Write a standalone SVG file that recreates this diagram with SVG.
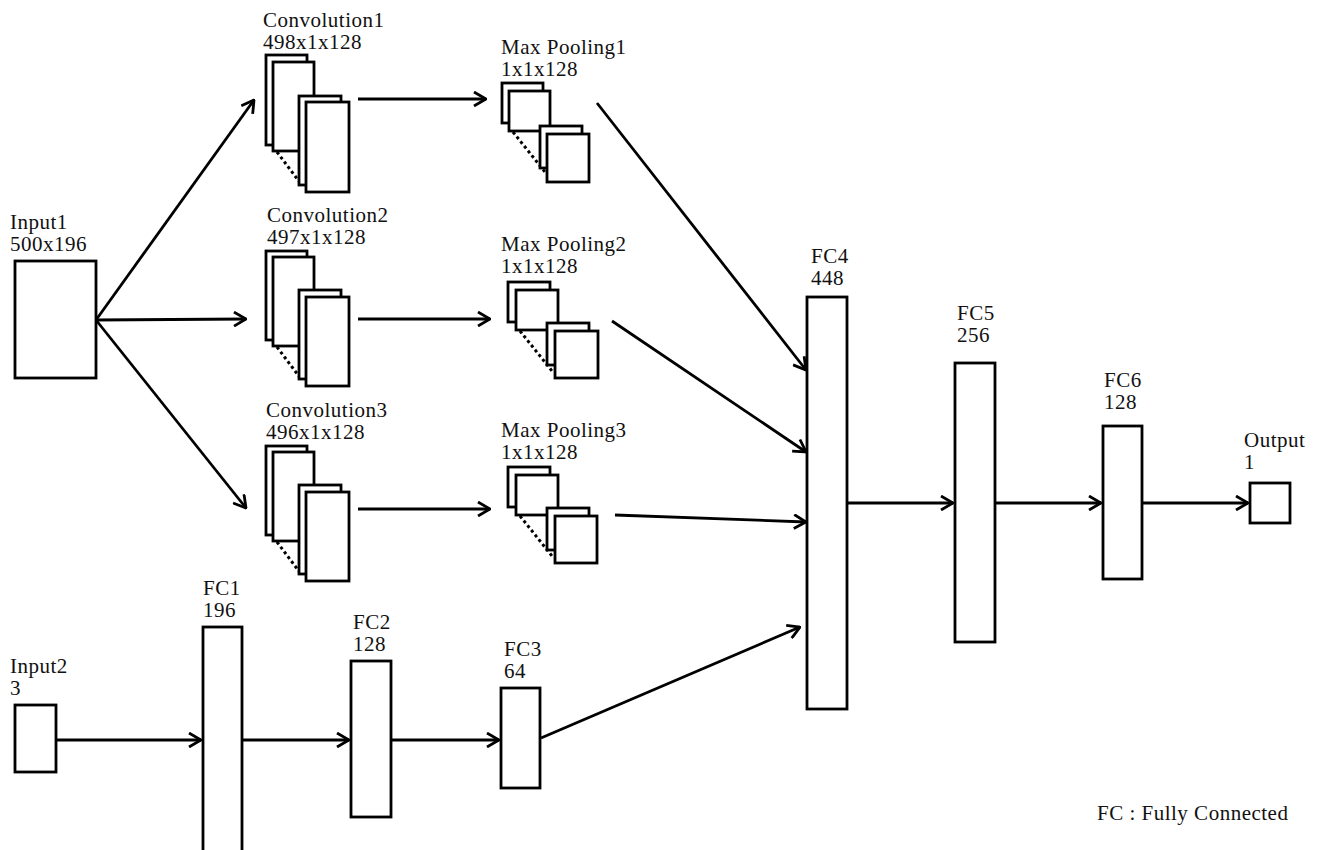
<svg xmlns="http://www.w3.org/2000/svg" width="1322" height="850" viewBox="0 0 1322 850">
<style>
.b{fill:#fff;stroke:#000;stroke-width:2.8}
.t{font-family:"Liberation Serif","Times New Roman",serif;font-size:21px;letter-spacing:0.5px;fill:#111}
.c{fill:none;stroke:#000;stroke-width:2.8}
.d{fill:none;stroke:#000;stroke-width:3;stroke-dasharray:3 3}
</style>
<defs>
<marker id="ah" viewBox="0 0 14 16" refX="13" refY="8" markerWidth="14" markerHeight="16" markerUnits="userSpaceOnUse" orient="auto">
<path d="M1,1 L13,8 L1,15" fill="none" stroke="#000" stroke-width="2.8"/>
</marker>
</defs>
<rect width="1322" height="850" fill="#fff"/>
<g id="connectors">
<line class="c" x1="96" y1="320" x2="254" y2="100" marker-end="url(#ah)"/>
<line class="c" x1="96" y1="320" x2="246" y2="319" marker-end="url(#ah)"/>
<line class="c" x1="96" y1="320" x2="246" y2="508" marker-end="url(#ah)"/>
<line class="c" x1="358" y1="99" x2="486" y2="99" marker-end="url(#ah)"/>
<line class="c" x1="358" y1="319" x2="490" y2="319" marker-end="url(#ah)"/>
<line class="c" x1="358" y1="509" x2="490" y2="509" marker-end="url(#ah)"/>
<line class="c" x1="597" y1="103" x2="806" y2="370" marker-end="url(#ah)"/>
<line class="c" x1="612" y1="321" x2="806" y2="452" marker-end="url(#ah)"/>
<line class="c" x1="615" y1="515" x2="806" y2="522" marker-end="url(#ah)"/>
<line class="c" x1="541" y1="738" x2="800" y2="627" marker-end="url(#ah)"/>
<line class="c" x1="847" y1="503" x2="953" y2="503" marker-end="url(#ah)"/>
<line class="c" x1="995" y1="503" x2="1101" y2="503" marker-end="url(#ah)"/>
<line class="c" x1="1142" y1="503" x2="1248" y2="503" marker-end="url(#ah)"/>
<line class="c" x1="56" y1="740" x2="201" y2="740" marker-end="url(#ah)"/>
<line class="c" x1="242" y1="740" x2="349" y2="740" marker-end="url(#ah)"/>
<line class="c" x1="391" y1="740" x2="499" y2="740" marker-end="url(#ah)"/>
</g>
<g id="input1">
<text class="t" x="10" y="229">Input1</text>
<text class="t" x="10" y="251">500x196</text>
<rect class="b" x="15" y="261" width="81" height="117"/>
</g>
<g id="conv1">
<text class="t" x="263" y="27">Convolution1</text>
<text class="t" x="263" y="49">498x1x128</text>
<rect class="b" x="266" y="55" width="41" height="90"/>
<rect class="b" x="273" y="62" width="41" height="89"/>
<line class="d" x1="277" y1="152" x2="301" y2="184"/>
<rect class="b" x="299" y="96" width="42" height="89"/>
<rect class="b" x="306" y="102" width="43" height="90"/>
</g>
<g id="conv2">
<text class="t" x="267" y="222">Convolution2</text>
<text class="t" x="267" y="244">497x1x128</text>
<rect class="b" x="266" y="251" width="41" height="89"/>
<rect class="b" x="273" y="257" width="41" height="89"/>
<line class="d" x1="277" y1="347" x2="301" y2="379"/>
<rect class="b" x="299" y="290" width="42" height="89"/>
<rect class="b" x="306" y="297" width="43" height="89"/>
</g>
<g id="conv3">
<text class="t" x="266" y="417">Convolution3</text>
<text class="t" x="266" y="439">496x1x128</text>
<rect class="b" x="266" y="446" width="41" height="89"/>
<rect class="b" x="273" y="452" width="41" height="89"/>
<line class="d" x1="277" y1="542" x2="301" y2="574"/>
<rect class="b" x="299" y="485" width="42" height="89"/>
<rect class="b" x="306" y="492" width="43" height="89"/>
</g>
<g id="pool1">
<text class="t" x="501" y="54">Max Pooling1</text>
<text class="t" x="501" y="76">1x1x128</text>
<rect class="b" x="502" y="83" width="41" height="40"/>
<rect class="b" x="509" y="91" width="41" height="40"/>
<line class="d" x1="513" y1="132" x2="545" y2="172"/>
<rect class="b" x="540" y="126" width="42" height="42"/>
<rect class="b" x="547" y="134" width="42" height="48"/>
</g>
<g id="pool2">
<text class="t" x="501" y="251">Max Pooling2</text>
<text class="t" x="501" y="273">1x1x128</text>
<rect class="b" x="508" y="282" width="42" height="40"/>
<rect class="b" x="516" y="290" width="42" height="40"/>
<line class="d" x1="520" y1="331" x2="552" y2="371"/>
<rect class="b" x="547" y="323" width="42" height="42"/>
<rect class="b" x="555" y="331" width="43" height="47"/>
</g>
<g id="pool3">
<text class="t" x="501" y="437">Max Pooling3</text>
<text class="t" x="501" y="459">1x1x128</text>
<rect class="b" x="508" y="467" width="42" height="40"/>
<rect class="b" x="516" y="475" width="42" height="40"/>
<line class="d" x1="520" y1="516" x2="552" y2="556"/>
<rect class="b" x="547" y="508" width="42" height="42"/>
<rect class="b" x="555" y="516" width="42" height="47"/>
</g>
<g id="fc4">
<text class="t" x="811" y="263">FC4</text>
<text class="t" x="811" y="285">448</text>
<rect class="b" x="807" y="297" width="40" height="412"/>
</g>
<g id="fc5">
<text class="t" x="957" y="320">FC5</text>
<text class="t" x="957" y="342">256</text>
<rect class="b" x="955" y="363" width="40" height="279"/>
</g>
<g id="fc6">
<text class="t" x="1104" y="387">FC6</text>
<text class="t" x="1104" y="409">128</text>
<rect class="b" x="1103" y="426" width="39" height="153"/>
</g>
<g id="output">
<text class="t" x="1244" y="447">Output</text>
<text class="t" x="1244" y="469">1</text>
<rect class="b" x="1250" y="483" width="40" height="40"/>
</g>
<g id="input2">
<text class="t" x="10" y="673">Input2</text>
<text class="t" x="10" y="695">3</text>
<rect class="b" x="15" y="705" width="41" height="67"/>
</g>
<g id="fc1">
<text class="t" x="203" y="595">FC1</text>
<text class="t" x="203" y="617">196</text>
<rect class="b" x="203" y="627" width="39" height="230"/>
</g>
<g id="fc2">
<text class="t" x="353" y="629">FC2</text>
<text class="t" x="353" y="651">128</text>
<rect class="b" x="351" y="661" width="40" height="156"/>
</g>
<g id="fc3">
<text class="t" x="504" y="656">FC3</text>
<text class="t" x="504" y="678">64</text>
<rect class="b" x="501" y="688" width="39" height="100"/>
</g>
<g id="legend">
<text class="t" x="1097" y="820">FC : Fully Connected</text>
</g>
</svg>
